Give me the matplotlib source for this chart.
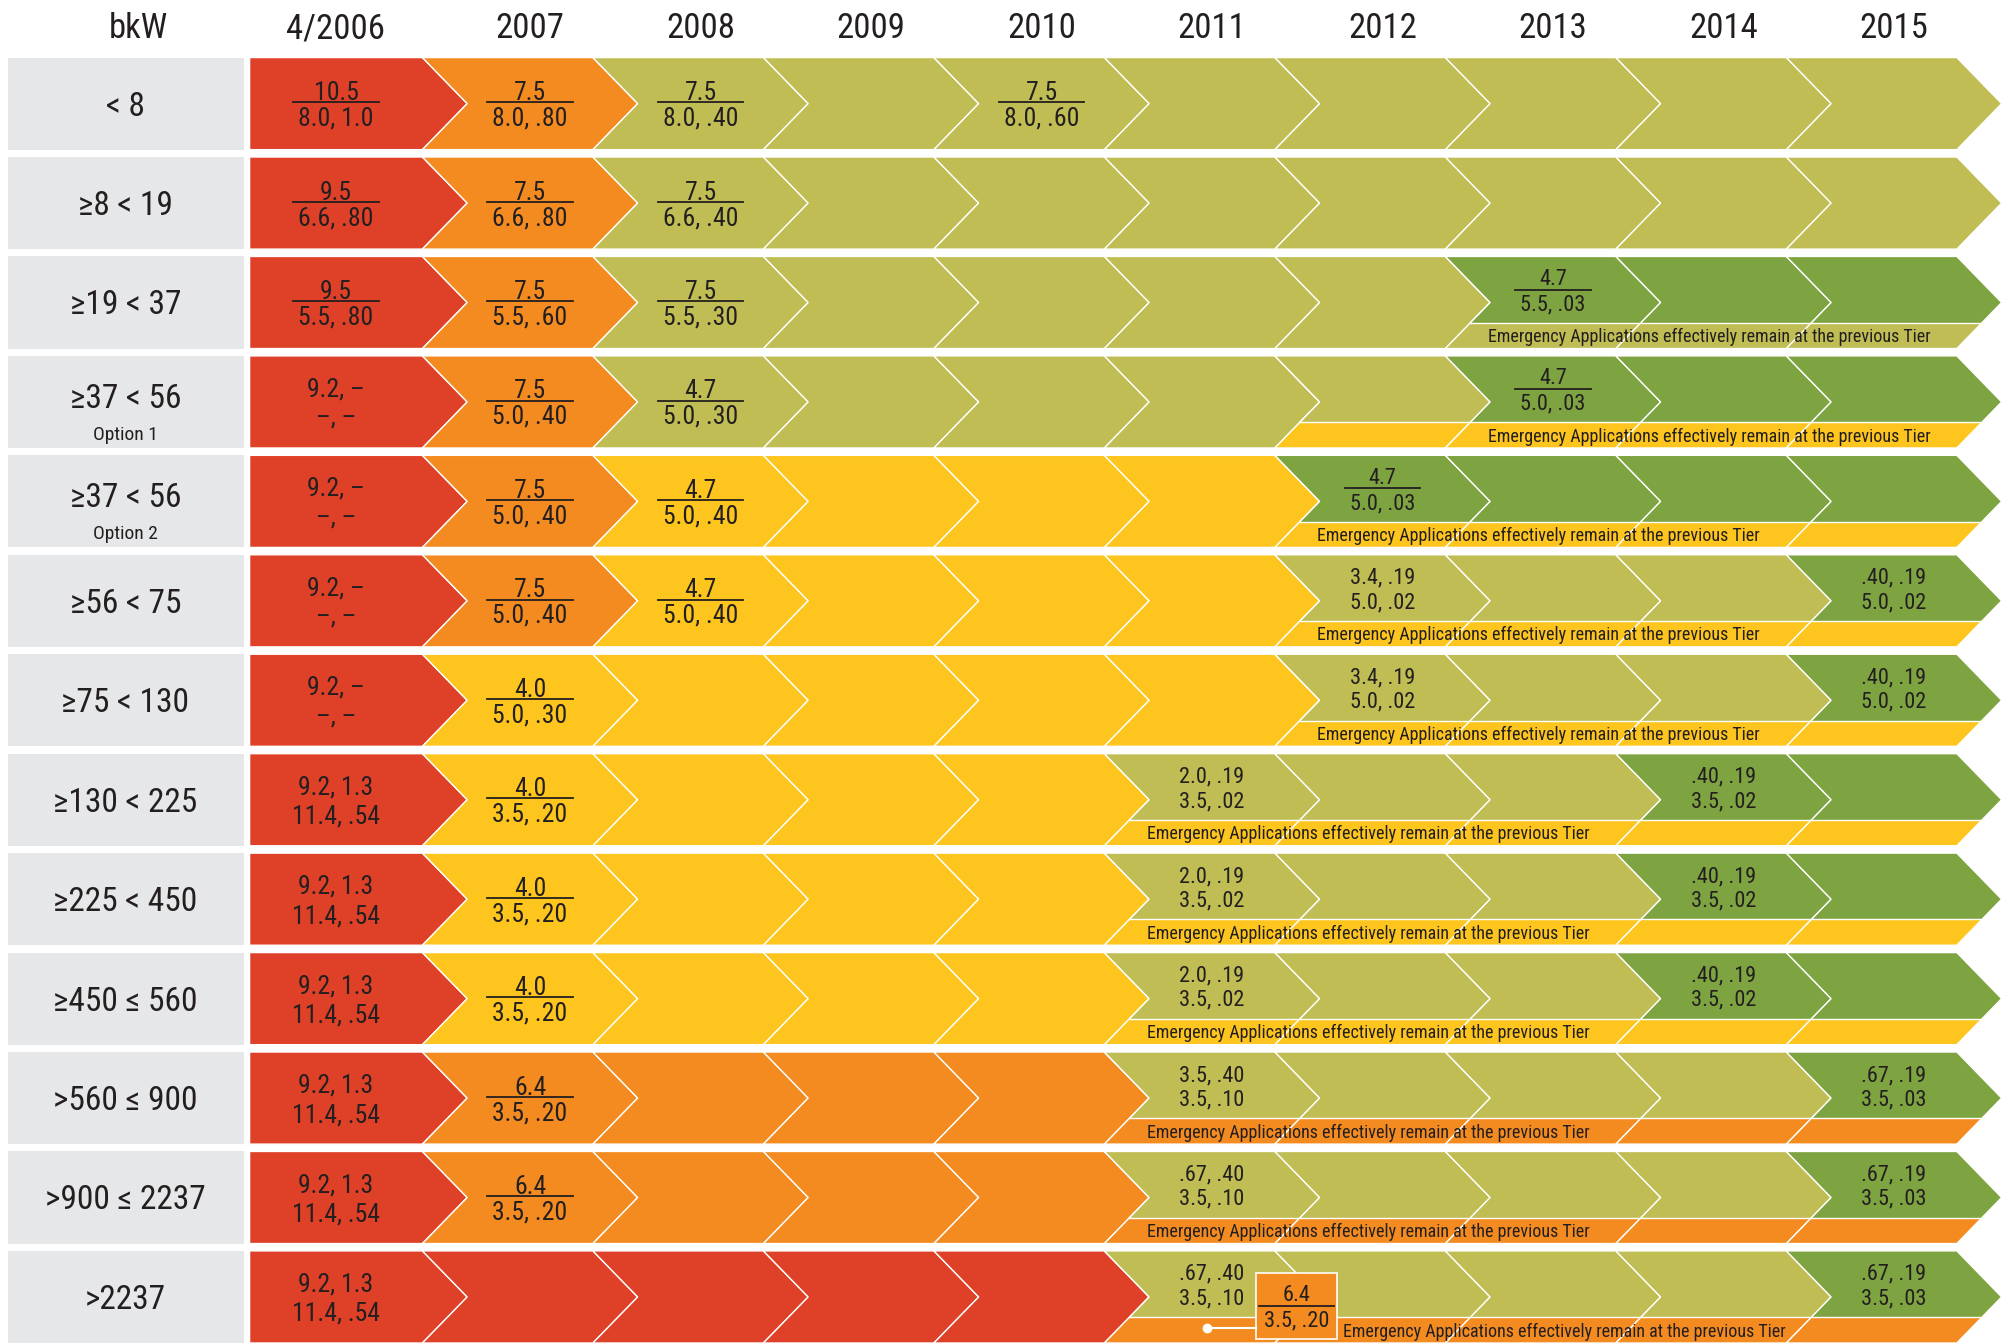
import matplotlib
matplotlib.use("Agg")
import matplotlib.pyplot as plt
from matplotlib import font_manager
from matplotlib.patches import Polygon, Rectangle

# ---- chart content ----
years = ['4/2006', '2007', '2008', '2009', '2010', '2011', '2012', '2013', '2014', '2015']
power_bands = ['< 8', '≥8 < 19', '≥19 < 37', '≥37 < 56', '≥37 < 56', '≥56 < 75', '≥75 < 130',
               '≥130 < 225', '≥225 < 450', '≥450 ≤ 560', '>560 ≤ 900', '>900 ≤ 2237', '>2237']
band_notes = ['', '', '', 'Option 1', 'Option 2', '', '', '', '', '', '', '', '']

# tier colour code per year: R, O, L (olive), Y, G
tier_rows = ['ROLLLLLLLL', 'ROLLLLLLLL', 'ROLLLLLGGG', 'ROLLLLLGGG', 'ROYYYYGGGG',
             'ROYYYYLLLG', 'RYYYYYLLLG', 'RYYYYLLLGG', 'RYYYYLLLGG', 'RYYYYLLLGG',
             'ROOOOLLLLG', 'ROOOOLLLLG', 'RRRRRLLLLG']
# emergency applications stay at the previous tier from this year index
emergency_tier = [None, None, 'L', 'Y', 'Y', 'Y', 'Y', 'Y', 'Y', 'Y', 'O', 'O', 'O']
emergency_from = [None, None, 7, 6, 6, 6, 6, 5, 5, 5, 5, 5, 5]
note_from = [None, None, 7, 7, 6, 6, 6, 5, 5, 5, 5, 5, 5]
emergency_note = 'Emergency Applications effectively remain at the previous Tier'

# limits per row: (year index, upper line, lower line, drawn as fraction)
limits = [
    [(0, '10.5', '8.0, 1.0', True), (1, '7.5', '8.0, .80', True), (2, '7.5', '8.0, .40', True), (4, '7.5', '8.0, .60', True)],
    [(0, '9.5', '6.6, .80', True), (1, '7.5', '6.6, .80', True), (2, '7.5', '6.6, .40', True)],
    [(0, '9.5', '5.5, .80', True), (1, '7.5', '5.5, .60', True), (2, '7.5', '5.5, .30', True), (7, '4.7', '5.5, .03', True)],
    [(0, '9.2, –', '–, –', False), (1, '7.5', '5.0, .40', True), (2, '4.7', '5.0, .30', True), (7, '4.7', '5.0, .03', True)],
    [(0, '9.2, –', '–, –', False), (1, '7.5', '5.0, .40', True), (2, '4.7', '5.0, .40', True), (6, '4.7', '5.0, .03', True)],
    [(0, '9.2, –', '–, –', False), (1, '7.5', '5.0, .40', True), (2, '4.7', '5.0, .40', True),
     (6, '3.4, .19', '5.0, .02', False), (9, '.40, .19', '5.0, .02', False)],
    [(0, '9.2, –', '–, –', False), (1, '4.0', '5.0, .30', True),
     (6, '3.4, .19', '5.0, .02', False), (9, '.40, .19', '5.0, .02', False)],
    [(0, '9.2, 1.3', '11.4, .54', False), (1, '4.0', '3.5, .20', True),
     (5, '2.0, .19', '3.5, .02', False), (8, '.40, .19', '3.5, .02', False)],
    [(0, '9.2, 1.3', '11.4, .54', False), (1, '4.0', '3.5, .20', True),
     (5, '2.0, .19', '3.5, .02', False), (8, '.40, .19', '3.5, .02', False)],
    [(0, '9.2, 1.3', '11.4, .54', False), (1, '4.0', '3.5, .20', True),
     (5, '2.0, .19', '3.5, .02', False), (8, '.40, .19', '3.5, .02', False)],
    [(0, '9.2, 1.3', '11.4, .54', False), (1, '6.4', '3.5, .20', True),
     (5, '3.5, .40', '3.5, .10', False), (9, '.67, .19', '3.5, .03', False)],
    [(0, '9.2, 1.3', '11.4, .54', False), (1, '6.4', '3.5, .20', True),
     (5, '.67, .40', '3.5, .10', False), (9, '.67, .19', '3.5, .03', False)],
    [(0, '9.2, 1.3', '11.4, .54', False), (5, '.67, .40', '3.5, .10', False), (9, '.67, .19', '3.5, .03', False)],
]
inset_limit = ('6.4', '3.5, .20')  # >2237, 2011 (orange box)

colors = {'R': '#DE4128', 'O': '#F48B21', 'L': '#BFBD53', 'Y': '#FDC51E', 'G': '#7EA341'}
label_bg = '#E6E7E8'
ink = '#231F20'


def pick_font(names):
    for n in names:
        try:
            font_manager.findfont(font_manager.FontProperties(family=n), fallback_to_default=False)
            return n
        except Exception:
            pass
    return 'DejaVu Sans'


font = pick_font(['Liberation Sans Narrow', 'DejaVu Sans Condensed', 'Roboto Condensed', 'Liberation Sans'])
plt.rcParams['font.family'] = [font, 'DejaVu Sans']

# ---- layout (units = reference pixels at 1568 wide) ----
W, H = 1568, 1050
DPI = 100
SCALE = 2007 / W
x_left = 195
tips = [365 + 133.2 * i for i in range(len(years))]
depth = 35
row_top0, row_pitch, row_h = 45, 77.75, 72
split = 0.72

fig = plt.figure(figsize=(20.07, 13.43), dpi=DPI)
ax = fig.add_axes([0, 0, 1, 1])
ax.set_xlim(0, W)
ax.set_ylim(H, 0)
ax.axis('off')


def put(x, yc, s, size, ha='center', **kw):
    # place text so the cap height is centred on yc
    cap = 0.36 * size * DPI / 72 / SCALE
    return ax.text(x, yc + cap, s, fontsize=size, ha=ha, va='baseline', color=ink, **kw)


def chevron(c, top):
    mid = top + row_h / 2
    r = tips[c]
    if c == 0:
        return [(x_left, top), (r - depth, top), (r, mid), (r - depth, top + row_h), (x_left, top + row_h)]
    l = tips[c - 1]
    return [(l - depth, top), (r - depth, top), (r, mid), (r - depth, top + row_h), (l - depth, top + row_h), (l, mid)]


def col_center(c):
    if c == 0:
        return (x_left + tips[0] - depth) / 2
    return (tips[c - 1] + tips[c]) / 2 - depth / 2


# header
put(108, 20, 'bkW', 25)
for c, y in enumerate(years):
    put(col_center(c), 20, y, 25)

fractions = []
for r in range(len(power_bands)):
    top = row_top0 + r * row_pitch
    mid = top + row_h / 2
    ax.add_patch(Rectangle((6, top), 185, row_h, facecolor=label_bg, edgecolor='none'))
    if band_notes[r]:
        put(98, top + 31, power_bands[r], 24)
        put(98, top + 60, band_notes[r], 14)
    else:
        put(98, mid, power_bands[r], 24)

    e0 = emergency_from[r]
    for c in range(len(years)):
        base = tier_rows[r][c]
        if e0 is not None and c >= e0:
            base = emergency_tier[r]
        ax.add_patch(Polygon(chevron(c, top), closed=True, facecolor=colors[base],
                             edgecolor='white', linewidth=1.0))
    if e0 is not None:
        ys = top + split * row_h
        clip = Rectangle((0, top - 2), W, split * row_h + 2, transform=ax.transData)
        for c in range(e0, len(years)):
            p = Polygon(chevron(c, top), closed=True, facecolor=colors[tier_rows[r][c]],
                        edgecolor='white', linewidth=1.0)
            ax.add_patch(p)
            p.set_clip_path(clip)
        off = depth * (ys - mid) / (row_h / 2)
        ax.plot([tips[e0 - 1] - off, tips[-1] - off], [ys, ys], color='white', lw=1.0)
        nx = tips[note_from[r] - 1] - depth + 33
        if r == len(power_bands) - 1:
            nx = col_center(5) + 66 + 31.5 + 5
        put(nx, ys + (row_h - split * row_h) / 2, emergency_note, 13, ha='left')

    for c, a, b, frac in limits[r]:
        x = col_center(c)
        small = e0 is not None and c >= e0
        yc = top + split * row_h / 2 if small else mid
        size = 16 if small else 18.5
        if frac:
            put(x, yc - 10, a, size)
            t = put(x, yc + 10, b, size)
            fractions.append((t, yc - (0 if small else 1)))
        else:
            gap = 9.5 if small else 11.5
            put(x, yc - gap, a, size)
            put(x, yc + gap, b, size)

# >2237 row: 2011 orange inset box with connector
top = row_top0 + (len(power_bands) - 1) * row_pitch
bx = col_center(5) + 66
ax.add_patch(Rectangle((bx - 31.5, top + 17), 63, 52, facecolor=colors['O'], edgecolor='white', lw=1.2, zorder=3))
ax.plot([col_center(5) - 4, bx - 31.5], [top + 60, top + 60], color='white', lw=1.5, zorder=3)
ax.plot([col_center(5) - 4], [top + 60], 'o', color='white', ms=6, zorder=3)
put(bx, top + 33, inset_limit[0], 16, zorder=4)
t = put(bx, top + 53, inset_limit[1], 16, zorder=4)
fractions.append((t, top + 43))

# fraction bars sized from the lower line
fig.canvas.draw()
renderer = fig.canvas.get_renderer()
inv = ax.transData.inverted()
for t, yl in fractions:
    bb = t.get_window_extent(renderer)
    (x0, _), (x1, _) = inv.transform([(bb.x0, bb.y0), (bb.x1, bb.y1)])
    ax.plot([x0 - 4, x1 + 4], [yl, yl], color=ink, lw=1.3, zorder=t.get_zorder())

fig.savefig('out.png', dpi=DPI, facecolor='white')
